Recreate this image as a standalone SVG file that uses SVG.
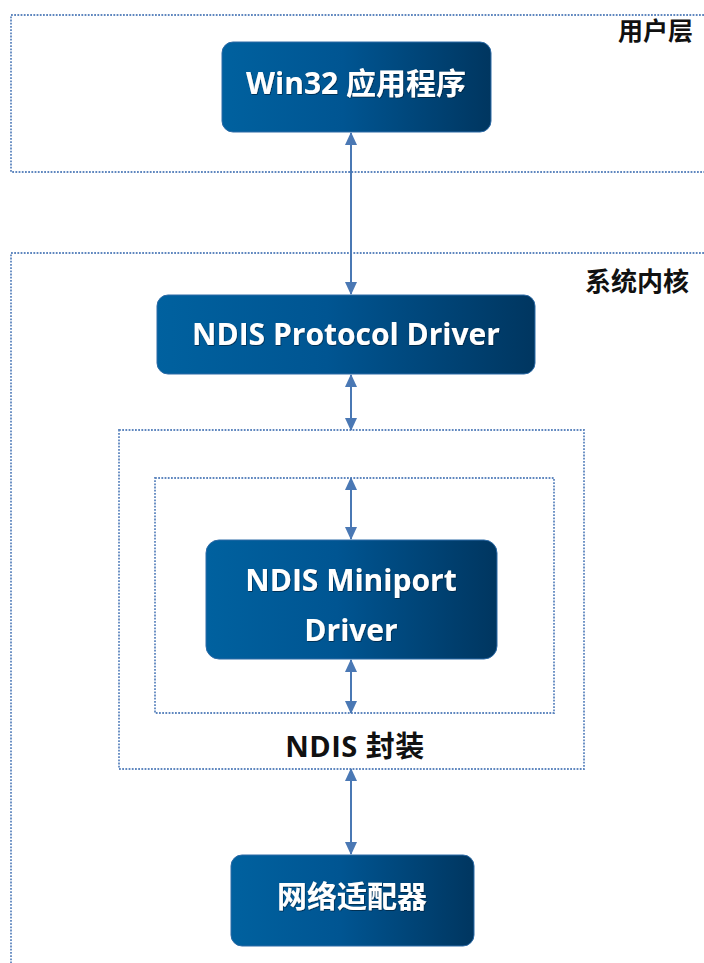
<svg xmlns="http://www.w3.org/2000/svg" width="704" height="963" viewBox="0 0 704 963">
  <defs>
    <linearGradient id="nodeFill" x1="0" y1="0" x2="1" y2="0">
      <stop offset="0" stop-color="#00619f"/>
      <stop offset="0.45" stop-color="#005592"/>
      <stop offset="1" stop-color="#003660"/>
    </linearGradient>
    <filter id="textGlow" x="-10%" y="-30%" width="120%" height="160%">
      <feDropShadow dx="0.6" dy="0.8" stdDeviation="0.6" flood-color="#001a33" flood-opacity="0.8"/>
    </filter>
    <marker id="arrow" viewBox="0 0 13 12" refX="12" refY="6" markerWidth="13" markerHeight="12" markerUnits="userSpaceOnUse" orient="auto-start-reverse">
      <path d="M0,0 L13,6 L0,12 Z" fill="#4a78b4"/>
    </marker>
  </defs>
  <style>
    .frame { fill: none; stroke: #5f87bf; stroke-width: 1.8; stroke-dasharray: 1.8 1.4; }
    .node { fill: url(#nodeFill); stroke: #2c6aa6; stroke-width: 1; }
    .ntext { fill: #ffffff; font-family: "Open Sans", "Noto Sans", "Noto Sans CJK SC", sans-serif; font-weight: bold; font-size: 30px; text-anchor: middle; filter: url(#textGlow); }
    .label { fill: #111111; font-family: "Open Sans", "Noto Sans", "Noto Sans CJK SC", sans-serif; font-weight: bold; font-size: 25px; }
    .label.kernel { font-size: 26px; }
    .label.wrapper { font-size: 29px; letter-spacing: 0.5px; }
    .link { stroke: #4a78b4; stroke-width: 2; fill: none; marker-start: url(#arrow); marker-end: url(#arrow); }
  </style>

  <rect width="704" height="963" fill="#ffffff"/>

  <!-- layer frames -->
  <g id="user-layer">
    <path class="frame" d="M720,15 L11,15 L11,172 L720,172"/>
    <text class="label" x="693" y="40" text-anchor="end">用户层</text>
  </g>
  <g id="kernel-layer">
    <path class="frame" d="M720,253 L11,253 L11,980"/>
    <text class="label kernel" x="689" y="291" text-anchor="end">系统内核</text>
  </g>
  <g id="ndis-wrapper">
    <rect class="frame" x="119" y="430" width="465" height="339"/>
    <rect class="frame" x="155" y="478" width="399" height="235"/>
    <text class="label wrapper" x="355" y="757" text-anchor="middle">NDIS 封装</text>
  </g>

  <!-- connectors -->
  <g id="connectors">
    <line class="link" x1="351" y1="133" x2="351" y2="294"/>
    <line class="link" x1="351" y1="375" x2="351" y2="430"/>
    <line class="link" x1="351" y1="478" x2="351" y2="539"/>
    <line class="link" x1="351" y1="660" x2="351" y2="713"/>
    <line class="link" x1="351" y1="769" x2="351" y2="854"/>
  </g>

  <!-- nodes -->
  <g id="win32-app">
    <rect class="node" x="222" y="42" width="269" height="90" rx="11"/>
    <text class="ntext" x="356" y="94">Win32 应用程序</text>
  </g>
  <g id="protocol-driver">
    <rect class="node" x="157" y="295" width="378" height="79" rx="11"/>
    <text class="ntext" x="346" y="345">NDIS Protocol Driver</text>
  </g>
  <g id="miniport-driver">
    <rect class="node" x="206" y="540" width="291" height="119" rx="13"/>
    <text class="ntext" x="351" y="591">NDIS Miniport</text>
    <text class="ntext" x="351" y="641">Driver</text>
  </g>
  <g id="network-adapter">
    <rect class="node" x="231" y="855" width="243" height="91" rx="11"/>
    <text class="ntext" x="352" y="907">网络适配器</text>
  </g>
</svg>
